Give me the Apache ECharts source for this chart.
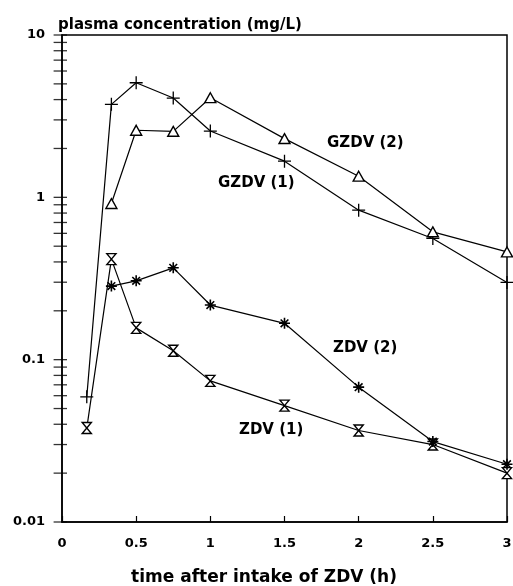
<!DOCTYPE html>
<html><head><meta charset="utf-8">
<script src="https://cdn.jsdelivr.net/npm/echarts@6/dist/echarts.min.js"></script>
<style>html,body{margin:0;padding:0;background:#fff}#c{width:513px;height:586px}</style>
</head><body><div id="c"></div>
<script>
const xTickLabels = ['0','0.5','1','1.5','2','2.5','3'];
const yTickLabels = ['0.01','0.1','1','10'];
const yTickValues = [0.01,0.02,0.03,0.04,0.05,0.06,0.07,0.08,0.09,
                     0.1,0.2,0.3,0.4,0.5,0.6,0.7,0.8,0.9,
                     1,2,3,4,5,6,7,8,9,10];

const timesGZDV1 = [0.167,0.333,0.5,0.75,1,1.5,2,2.5,3];
const gzdv1      = [0.059,3.74,5.08,4.09,2.56,1.67,0.834,0.558,0.299];
const timesGZDV2 = [0.333,0.5,0.75,1,1.5,2,2.5,3];
const gzdv2      = [0.916,2.59,2.55,4.11,2.30,1.35,0.613,0.461];
const timesZDV1  = [0.167,0.333,0.5,0.75,1,1.5,2,2.5,3];
const zdv1       = [0.0379,0.416,0.157,0.1136,0.074,0.0521,0.0366,0.030,0.0200];
const timesZDV2  = [0.333,0.5,0.75,1,1.5,2,2.5,3];
const zdv2       = [0.284,0.306,0.368,0.217,0.1675,0.0677,0.0313,0.0227];

const seriesNames = ['GZDV (1)','GZDV (2)','ZDV (1)','ZDV (2)'];

const FONT = "'DejaVu Sans', sans-serif";
const pairs = (xs, ys) => xs.map((x, i) => [x, ys[i]]);

const SYM_PLUS = 'path://M0,5L10,5M5,0L5,10';
const SYM_STAR = 'path://M5,0L5,10M0,5L10,5M1.5,1.5L8.5,8.5M8.5,1.5L1.5,8.5';
const SYM_TRI = 'path://M5,0L10,9L0,9Z';
const SYM_HOUR = 'path://M0,0L10,0L5,6L10,12L0,12L5,6Z';

function lineSeries(name, data, symbol, size, fill, bw) {
  return {
    type: 'line', name, data, symbol, symbolSize: size,
    symbolKeepAspect: true,
    lineStyle: { color: '#000', width: 1.2 },
    itemStyle: { color: fill, borderColor: '#000', borderWidth: bw },
    emphasis: { disabled: true },
    animation: false, clip: false
  };
}

const chart = echarts.init(document.getElementById('c'), null, { renderer: 'canvas' });
chart.setOption({
  backgroundColor: '#fff',
  animation: false,
  title: {
    text: 'plasma concentration (mg/L)', left: 53, top: 13,
    textStyle: { fontFamily: FONT, fontSize: 15, fontWeight: 'bold', color: '#000' }
  },
  grid: {
    left: 62, right: 6, top: 35, bottom: 64, show: true,
    borderColor: '#000', borderWidth: 1.5, backgroundColor: 'transparent',
    containLabel: false, outerBoundsMode: 'none'
  },
  xAxis: {
    type: 'value', min: 0, max: 3, interval: 0.5,
    name: 'time after intake of ZDV (h)', nameLocation: 'middle', nameGap: 47,
    nameTextStyle: { fontFamily: FONT, fontSize: 17, fontWeight: 'bold', color: '#000', padding: [0, 41, 0, 0] },
    axisLine: { show: true, lineStyle: { color: '#000', width: 1.5 } },
    axisTick: { show: true, inside: true, length: 6, lineStyle: { color: '#000', width: 1.2 } },
    splitLine: { show: false },
    axisLabel: {
      margin: 15, fontFamily: FONT, fontSize: 13, fontWeight: 'bold', color: '#000',
      formatter: v => xTickLabels[Math.round(v / 0.5)]
    }
  },
  yAxis: {
    type: 'log', logBase: 10, min: 0.01, max: 10,
    axisLine: { show: true, lineStyle: { color: '#000', width: 1.5 } },
    axisTick: { show: false },
    splitLine: { show: false },
    axisLabel: {
      margin: 17, fontFamily: FONT, fontSize: 13, fontWeight: 'bold', color: '#000',
      formatter: v => {
        const k = Math.round(Math.log10(v)) + 2;
        return yTickLabels[k] !== undefined ? yTickLabels[k] : '';
      }
    }
  },
  graphic: [
    { type: 'text', x: 327, y: 143, style: { text: 'GZDV (2)', font: "bold 15px 'DejaVu Sans'", fill: '#000', verticalAlign: 'middle' } },
    { type: 'text', x: 218, y: 183, style: { text: 'GZDV (1)', font: "bold 15px 'DejaVu Sans'", fill: '#000', verticalAlign: 'middle' } },
    { type: 'text', x: 333, y: 348, style: { text: 'ZDV (2)', font: "bold 15px 'DejaVu Sans'", fill: '#000', verticalAlign: 'middle' } },
    { type: 'text', x: 239, y: 430, style: { text: 'ZDV (1)', font: "bold 15px 'DejaVu Sans'", fill: '#000', verticalAlign: 'middle' } }
  ],
  series: [
    {
      type: 'scatter', name: 'yticks', data: yTickValues.map(v => [0, v]),
      symbol: 'rect', symbolSize: [13.4, 1.3], symbolOffset: [-1.7, 0],
      itemStyle: { color: '#000' }, silent: true, animation: false, clip: false, z: 5
    },
    lineSeries(seriesNames[0], pairs(timesGZDV1, gzdv1), SYM_PLUS, 13, '#000', 1.3),
    lineSeries(seriesNames[1], pairs(timesGZDV2, gzdv2), SYM_TRI, 11, '#fff', 1.4),
    lineSeries(seriesNames[2], pairs(timesZDV1, zdv1), SYM_HOUR, 11, '#fff', 1.4),
    lineSeries(seriesNames[3], pairs(timesZDV2, zdv2), SYM_STAR, 11, '#000', 1.6)
  ]
});
</script>
</body></html>
